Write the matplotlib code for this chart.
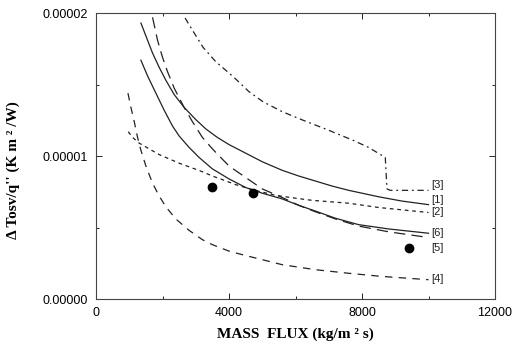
import matplotlib
matplotlib.use("Agg")
import matplotlib.pyplot as plt
from matplotlib.ticker import MultipleLocator, FixedLocator, FuncFormatter

# values (y in units of 1e-5 K m^2/W)
x1 = [1350, 1500, 1700, 1900, 2100, 2350, 2650, 3000, 3300, 3650, 4000, 4500,
      5000, 5600, 6100, 6600, 7100, 7600, 8500, 9200, 10000]
y1 = [1.93, 1.84, 1.72, 1.62, 1.53, 1.43, 1.34, 1.255, 1.19, 1.13, 1.08, 1.02,
      0.96, 0.90, 0.86, 0.825, 0.79, 0.76, 0.715, 0.685, 0.66]

x2 = [970, 1100, 1300, 1600, 1900, 2200, 2500, 2850, 3200, 3500, 3800, 4200,
      4700, 5400, 6000, 6500, 7600, 8500, 10000]
y2 = [1.17, 1.13, 1.09, 1.05, 1.01, 0.98, 0.95, 0.92, 0.89, 0.86, 0.835, 0.80,
      0.765, 0.725, 0.705, 0.69, 0.67, 0.64, 0.605]

x3 = [2680, 2900, 3220, 3600, 4000, 4240, 4600, 5020, 5600, 6230, 7000, 7730,
      8200, 8700, 8750, 8850, 10000]
y3 = [1.965, 1.88, 1.76, 1.66, 1.58, 1.53, 1.45, 1.38, 1.31, 1.25, 1.18, 1.11,
      1.06, 0.99, 0.77, 0.76, 0.76]

x4 = [960, 1050, 1150, 1250, 1350, 1500, 1700, 1900, 2100, 2400, 2800, 3200,
      3500, 4000, 4400, 5000, 5600, 6600, 7600, 8600, 10000]
y4 = [1.44, 1.34, 1.24, 1.13, 1.04, 0.93, 0.81, 0.72, 0.645, 0.56, 0.48, 0.415,
      0.38, 0.335, 0.31, 0.275, 0.24, 0.205, 0.18, 0.158, 0.135]

x5 = [1700, 1850, 2000, 2150, 2350, 2650, 2900, 3200, 3500, 3750, 4000, 4500,
      5000, 5600, 6100, 6600, 7200, 7900, 8800, 10000]
y5 = [1.97, 1.81, 1.69, 1.59, 1.475, 1.34, 1.24, 1.13, 1.05, 0.99, 0.93, 0.85,
      0.77, 0.71, 0.655, 0.61, 0.56, 0.51, 0.47, 0.43]

x6 = [1350, 1550, 1800, 2050, 2300, 2500, 2800, 3100, 3500, 4000, 4500, 5000,
      5600, 6100, 6600, 7200, 7900, 8800, 10000]
y6 = [1.67, 1.56, 1.44, 1.32, 1.21, 1.14, 1.06, 0.99, 0.91, 0.84, 0.78, 0.74,
      0.70, 0.655, 0.615, 0.565, 0.52, 0.49, 0.46]

dots_x = [3490, 4720, 9410]
dots_y = [0.78, 0.74, 0.36]

labels = ["[3]", "[1]", "[2]", "[6]", "[5]", "[4]"]
label_y = [0.80, 0.69, 0.61, 0.46, 0.36, 0.14]

s = 1e-5

fig = plt.figure(figsize=(5.21, 3.51), dpi=100)
ax = fig.add_axes([0.1843, 0.1481, 0.7658, 0.8148])

lc = "#222222"
ax.plot(x1, [v * s for v in y1], color=lc, lw=0.9)
ax.plot(x2, [v * s for v in y2], color=lc, lw=0.9, dashes=(3, 3))
ax.plot(x3, [v * s for v in y3], color=lc, lw=0.9, dashes=(5, 3, 1.5, 3))
ax.plot(x4, [v * s for v in y4], color=lc, lw=0.9, dashes=(6, 5))
ax.plot(x5, [v * s for v in y5], color=lc, lw=0.9, dashes=(9, 5))
ax.plot(x6, [v * s for v in y6], color=lc, lw=0.9)
ax.plot(dots_x, [v * s for v in dots_y], "o", color="black", ms=6)

for lab, ly in zip(labels, label_y):
    ax.text(10080, ly * s, lab, fontsize=8, family="Liberation Sans",
            va="center", ha="left", color="#222222")

ax.set_xlim(0, 12000)
ax.set_ylim(0, 2e-5)
ax.xaxis.set_major_locator(FixedLocator([0, 4000, 8000, 12000]))
ax.xaxis.set_minor_locator(MultipleLocator(2000))
ax.yaxis.set_major_locator(FixedLocator([0, 1e-5, 2e-5]))
ax.yaxis.set_minor_locator(MultipleLocator(0.5e-5))
ax.yaxis.set_major_formatter(FuncFormatter(lambda v, p: "%.5f" % v))
ax.tick_params(which="both", direction="in", top=True, right=True,
               labelsize=9, width=0.6)
ax.tick_params(which="major", length=4, pad=6)
ax.tick_params(which="minor", length=2)
for lbl in ax.get_xticklabels() + ax.get_yticklabels():
    lbl.set_family("Liberation Sans")
for sp in ax.spines.values():
    sp.set_linewidth(0.8)
    sp.set_color("#444444")

ax.set_xlabel("MASS  FLUX (kg/m ² s)", family="Liberation Serif",
              fontweight="bold", fontsize=11)
ax.set_ylabel("Δ Tosv/q'' (K m ² /W)", family="Liberation Serif",
              fontweight="bold", fontsize=11)
ax.xaxis.set_label_coords(0.5, -0.10)
ax.yaxis.set_label_coords(-0.19, 0.45)

fig.savefig("out.png", dpi=100)
